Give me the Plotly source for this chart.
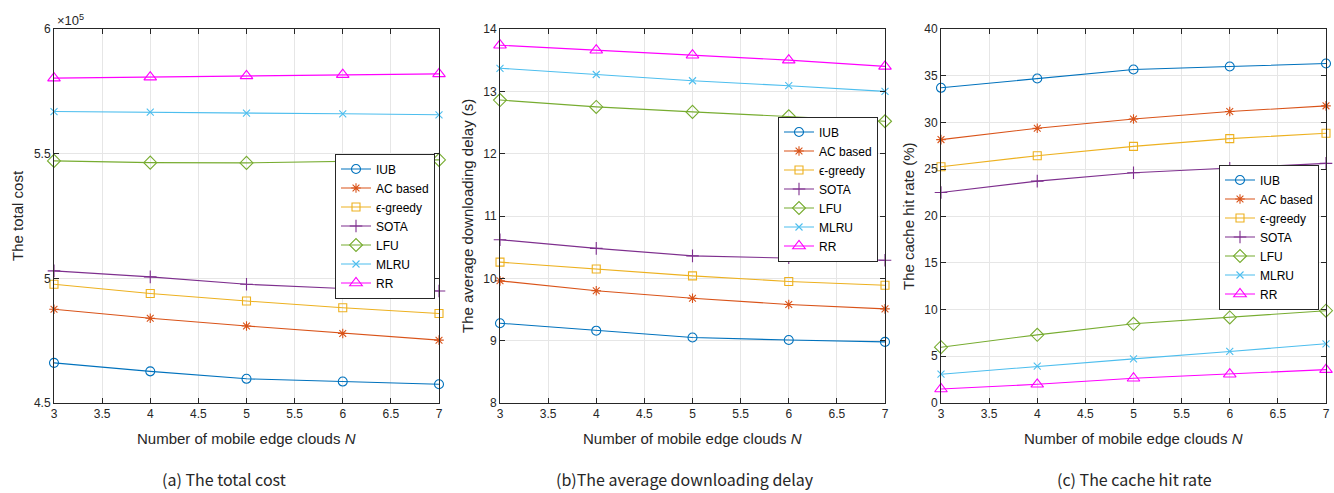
import plotly.graph_objects as go

W, H = 1334, 493

N = [3, 4, 5, 6, 7]
series_names = ["IUB", "AC based", "\u03f5-greedy", "SOTA", "LFU", "MLRU", "RR"]

# (a) total cost (x1e5)
cost_IUB = [4.661, 4.627, 4.597, 4.586, 4.575]
cost_AC = [4.876, 4.840, 4.809, 4.779, 4.752]
cost_EPS = [4.976, 4.939, 4.909, 4.882, 4.859]
cost_SOTA = [5.030, 5.006, 4.976, 4.959, 4.949]
cost_LFU = [5.471, 5.464, 5.463, 5.468, 5.475]
cost_MLRU = [5.669, 5.667, 5.663, 5.660, 5.656]
cost_RR = [5.803, 5.807, 5.812, 5.817, 5.820]

# (b) average downloading delay (s)
delay_IUB = [9.28, 9.16, 9.05, 9.01, 8.98]
delay_AC = [9.96, 9.80, 9.68, 9.58, 9.51]
delay_EPS = [10.26, 10.15, 10.04, 9.95, 9.89]
delay_SOTA = [10.62, 10.48, 10.36, 10.33, 10.29]
delay_LFU = [12.86, 12.75, 12.67, 12.60, 12.52]
delay_MLRU = [13.37, 13.27, 13.17, 13.09, 13.00]
delay_RR = [13.74, 13.66, 13.58, 13.50, 13.40]

# (c) cache hit rate (%)
hit_IUB = [33.71, 34.71, 35.67, 35.99, 36.31]
hit_AC = [28.17, 29.38, 30.38, 31.17, 31.78]
hit_EPS = [25.27, 26.45, 27.45, 28.28, 28.85]
hit_SOTA = [22.52, 23.73, 24.63, 25.09, 25.63]
hit_LFU = [5.97, 7.29, 8.47, 9.15, 9.87]
hit_MLRU = [3.08, 3.94, 4.72, 5.51, 6.33]
hit_RR = [1.50, 2.00, 2.65, 3.08, 3.57]

colors = ["#0072BD", "#D95319", "#EDB120", "#7E2F8E", "#77AC30", "#4DBEEE", "#FF00FF"]
symbols = ["circle-open", "asterisk-open", "square-open", "cross-thin-open",
           "diamond-open", "x-thin-open", "triangle-up-open"]
msizes = [9, 8, 8, 9, 10, 7, 11]


def fx(px):
    return px / W


def fy(py):
    return 1 - py / H


panels = [
    dict(data=[cost_IUB, cost_AC, cost_EPS, cost_SOTA, cost_LFU, cost_MLRU, cost_RR],
         yrange=[4.5, 6], ytick=0.5, ylabel="The total cost",
         caption="(a) The total cost", px=(54, 439), legend_px=(435, 226), cap_x=224, ytitle_x=17),
    dict(data=[delay_IUB, delay_AC, delay_EPS, delay_SOTA, delay_LFU, delay_MLRU, delay_RR],
         yrange=[8, 14], ytick=1, ylabel="The average downloading delay (s)",
         caption="(b)The average downloading delay", px=(500, 885), legend_px=(878, 189), cap_x=685, ytitle_x=467),
    dict(data=[hit_IUB, hit_AC, hit_EPS, hit_SOTA, hit_LFU, hit_MLRU, hit_RR],
         yrange=[0, 40], ytick=5, ylabel="The cache hit rate (%)",
         caption="(c) The cache hit rate", px=(941, 1326), legend_px=(1319, 237), cap_x=1134, ytitle_x=908),
]

top_px, bot_px = 29, 403
ydom = [fy(bot_px), fy(top_px)]

fig = go.Figure()
FONT = "Liberation Sans, Arial, sans-serif"
axis_font = dict(family=FONT, size=12, color="#262626")
annotations = []
layout = {}

for i, p in enumerate(panels):
    k = "" if i == 0 else str(i + 1)
    leg = "legend" if i == 0 else f"legend{i + 1}"
    for j, name in enumerate(series_names):
        fig.add_trace(go.Scatter(
            x=N, y=p["data"][j], name=name, mode="lines+markers",
            xaxis="x" + k, yaxis="y" + k, legend=leg,
            line=dict(color=colors[j], width=1.1),
            marker=dict(symbol=symbols[j], size=msizes[j], color=colors[j],
                        line=dict(width=1.1, color=colors[j])),
            cliponaxis=False,
        ))
    xd = [fx(p["px"][0]), fx(p["px"][1])]
    common = dict(showline=True, linecolor="#262626", linewidth=1, mirror="ticks",
                  ticks="inside", ticklen=5, tickcolor="#262626", tickwidth=1,
                  showgrid=True, gridcolor="#E6E6E6", gridwidth=1,
                  zeroline=False, tickfont=axis_font, automargin=False)
    layout["xaxis" + k] = dict(domain=xd, range=[3, 7], dtick=0.5, tick0=3,
                               anchor="y" + k, **common)
    layout["yaxis" + k] = dict(domain=ydom, range=p["yrange"], dtick=p["ytick"],
                               anchor="x" + k, **common)
    lx, ly = p["legend_px"]
    layout[leg] = dict(x=fx(lx), y=fy(ly), xanchor="right", yanchor="middle",
                       bgcolor="white", bordercolor="#262626", borderwidth=1,
                       font=dict(family=FONT, size=12, color="#000000"),
                       tracegroupgap=0, itemwidth=30, traceorder="normal")
    cx = (p["px"][0] + p["px"][1]) / 2
    annotations.append(dict(text="Number of mobile edge clouds <i>N</i>", x=fx(cx), y=fy(438),
                            xref="paper", yref="paper", showarrow=False,
                            xanchor="center", yanchor="middle",
                            font=dict(family=FONT, size=15, color="#262626")))
    annotations.append(dict(text=p["caption"], x=fx(p["cap_x"]), y=fy(492),
                            xref="paper", yref="paper", showarrow=False,
                            xanchor="center", yanchor="bottom", borderpad=0,
                            font=dict(family="Noto Sans CJK SC, Noto Sans, sans-serif", size=16, color="#262626")))
    annotations.append(dict(text=p["ylabel"], x=fx(p["ytitle_x"]), y=fy((top_px + bot_px) / 2),
                            xref="paper", yref="paper", showarrow=False, textangle=-90,
                            xanchor="center", yanchor="middle",
                            font=dict(family=FONT, size=15, color="#262626")))

annotations.append(dict(text="\u00d710<sup>5</sup>", x=fx(55), y=fy(20), xref="paper", yref="paper",
                        showarrow=False, xanchor="left", yanchor="middle",
                        font=dict(family=FONT, size=13, color="#262626")))

fig.update_layout(width=W, height=H, margin=dict(l=0, r=0, t=0, b=0),
                  paper_bgcolor="white", plot_bgcolor="white", hovermode=False,
                  annotations=annotations, **layout)

fig.write_html("out.html", config={"displayModeBar": False},
               post_script="document.body.style.margin='0';")
